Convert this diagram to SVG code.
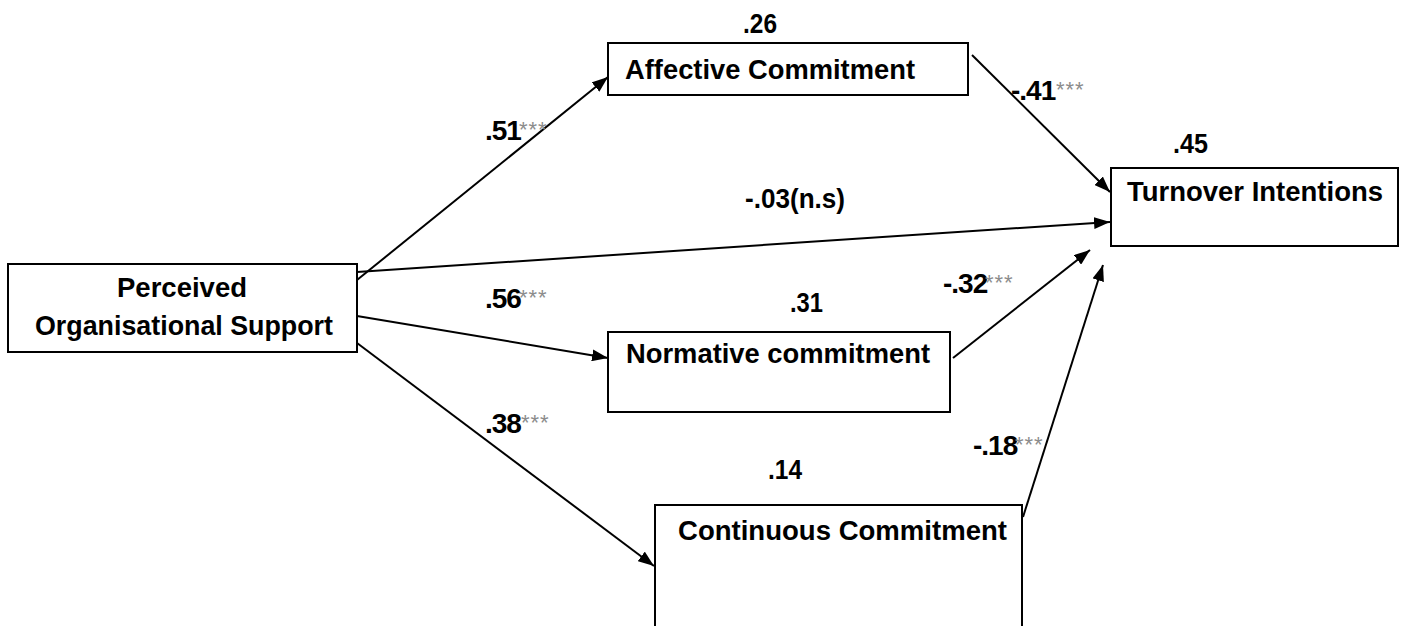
<svg xmlns="http://www.w3.org/2000/svg" width="1405" height="626" viewBox="0 0 1405 626">
<style>
.box{fill:#fff;stroke:#000;stroke-width:2}
.t{font-family:"Liberation Sans",Arial,sans-serif;font-weight:bold;font-size:28px;fill:#000}
.ast{font-family:"Liberation Sans",Arial,sans-serif;font-weight:normal;font-size:22px;fill:#8c8c8c}
.c{fill:none;stroke:#000;stroke-width:2}
</style>
<defs>
<marker id="ah" viewBox="0 0 16 12" refX="16" refY="6" markerWidth="16" markerHeight="12" markerUnits="userSpaceOnUse" orient="auto">
<path d="M0,0 L16,6 L0,12 z" fill="#000"/>
</marker>
</defs>
<rect width="1405" height="626" fill="#fff"/>
<g id="connectors">
<line class="c" x1="357" y1="280" x2="608" y2="77" marker-end="url(#ah)"/>
<line class="c" x1="357" y1="272" x2="1110" y2="222" marker-end="url(#ah)"/>
<line class="c" x1="357" y1="316" x2="608" y2="358" marker-end="url(#ah)"/>
<line class="c" x1="357" y1="343" x2="654" y2="566" marker-end="url(#ah)"/>
<line class="c" x1="972" y1="55" x2="1110" y2="192" marker-end="url(#ah)"/>
<line class="c" x1="953" y1="358" x2="1090" y2="250" marker-end="url(#ah)"/>
<line class="c" x1="1023" y1="517" x2="1103" y2="265" marker-end="url(#ah)"/>
<text class="t" x="485" y="140" letter-spacing="-1">.51<tspan class="ast" x="519" y="137" letter-spacing="1">***</tspan></text>
<text class="t" x="745" y="208" textLength="100" lengthAdjust="spacingAndGlyphs">-.03(n.s)</text>
<text class="t" x="485" y="308" letter-spacing="-1">.56<tspan class="ast" x="519" y="305" letter-spacing="1">***</tspan></text>
<text class="t" x="485" y="433" letter-spacing="-1">.38<tspan class="ast" x="521" y="430" letter-spacing="1">***</tspan></text>
<text class="t" x="1011" y="100" letter-spacing="-1">-.41<tspan class="ast" x="1056" y="97" letter-spacing="1">***</tspan></text>
<text class="t" x="943" y="293" letter-spacing="-1">-.32<tspan class="ast" x="985" y="290" letter-spacing="1">***</tspan></text>
<text class="t" x="973" y="455" letter-spacing="-1">-.18<tspan class="ast" x="1015" y="452" letter-spacing="1">***</tspan></text>
</g>
<g id="pos">
<rect class="box" x="8" y="264" width="349" height="88"/>
<text class="t" x="117" y="297" textLength="130" lengthAdjust="spacingAndGlyphs">Perceived</text>
<text class="t" x="35" y="335" textLength="298" lengthAdjust="spacingAndGlyphs">Organisational Support</text>
</g>
<g id="ac">
<rect class="box" x="608" y="43" width="360" height="52"/>
<text class="t" x="625" y="79" textLength="290" lengthAdjust="spacingAndGlyphs">Affective Commitment</text>
<text class="t" x="743" y="33" textLength="34" lengthAdjust="spacingAndGlyphs">.26</text>
</g>
<g id="ti">
<rect class="box" x="1111" y="168" width="287" height="78"/>
<text class="t" x="1127" y="201" textLength="256" lengthAdjust="spacingAndGlyphs">Turnover Intentions</text>
<text class="t" x="1173" y="153" textLength="35" lengthAdjust="spacingAndGlyphs">.45</text>
</g>
<g id="nc">
<rect class="box" x="608" y="332" width="342" height="80"/>
<text class="t" x="626" y="363" textLength="304" lengthAdjust="spacingAndGlyphs">Normative commitment</text>
<text class="t" x="790" y="312" textLength="33" lengthAdjust="spacingAndGlyphs">.31</text>
</g>
<g id="cc">
<rect class="box" x="655" y="505" width="367" height="130"/>
<text class="t" x="678" y="540" textLength="329" lengthAdjust="spacingAndGlyphs">Continuous Commitment</text>
<text class="t" x="768" y="479" textLength="34" lengthAdjust="spacingAndGlyphs">.14</text>
</g>
</svg>
